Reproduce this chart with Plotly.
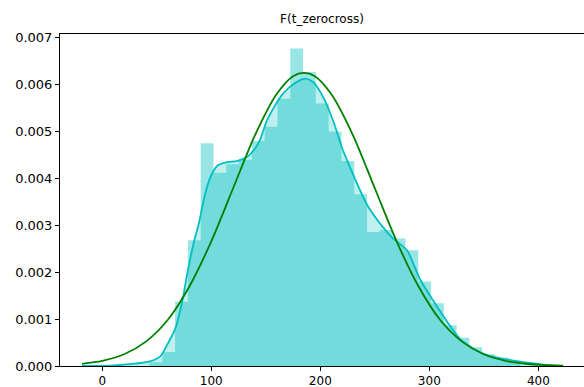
import plotly.graph_objects as go

# Histogram (density): 29 bins, left edges and the final right edge
bin_edges = [43.30, 55.04, 66.78, 78.52, 90.26, 102.00, 113.74, 125.48, 137.22, 148.96,
             160.70, 172.44, 184.18, 195.92, 207.66, 219.40, 231.14, 242.88, 254.62, 266.36,
             278.10, 289.84, 301.58, 313.32, 325.06, 336.80, 348.54, 360.28, 372.02, 383.76]
bin_density = [0.00008, 0.0003, 0.00137, 0.00268, 0.00475, 0.00412, 0.0043, 0.0044, 0.0048, 0.0051,
               0.0057, 0.00677, 0.00627, 0.0056, 0.0050, 0.00437, 0.00366, 0.00286, 0.0029, 0.00272,
               0.00247, 0.0018, 0.00134, 0.00087, 0.0006, 0.0004, 0.00025, 0.00018, 0.00012]

# KDE curve
kde_x = [-18.6, 7.1, 25.4, 43.8, 52.9, 59.4, 66.7, 73.1, 78.6, 84.1, 88.7, 92.4, 96.1, 100.6,
         106.1, 114.4, 123.6, 132.8, 140.1, 144.7, 151.1, 165.8, 178.6, 186.0, 193.3, 202.5,
         211.6, 220.8, 224.5, 233.7, 243.8, 254.8, 266.7, 279.5, 285.0, 291.5, 303.4, 316.2,
         328.2, 340.1, 352.9, 371.3, 389.6, 408.0, 422.7]
kde_y = [0.0, 0.00001, 0.00004, 0.0001, 0.0002, 0.00045, 0.00078, 0.00135, 0.00205, 0.00265,
         0.00305, 0.00347, 0.00382, 0.0041, 0.00428, 0.00435, 0.00437, 0.00446, 0.00464, 0.00482,
         0.00524, 0.00581, 0.00606, 0.00613, 0.00606, 0.00574, 0.00524, 0.0046, 0.00439, 0.00389,
         0.0034, 0.00304, 0.00272, 0.00247, 0.0022, 0.00185, 0.0014, 0.00095, 0.00058, 0.00038,
         0.00023, 0.00014, 0.00007, 0.00002, 0.0]

# Normal fit curve
fit_x = [-18.6, 0, 20, 40, 60, 80, 100, 120, 140, 160, 175, 185, 195, 210, 230, 250, 270,
         290, 310, 330, 350, 370, 390, 410, 422.7]
fit_y = [0.000047, 0.000109, 0.00025, 0.00052, 0.00098, 0.0017, 0.00266, 0.00379, 0.00492,
         0.0058, 0.00618, 0.00625, 0.00618, 0.0058, 0.00492, 0.00379, 0.00266, 0.0017, 0.00098,
         0.00052, 0.00025, 0.000109, 0.000043, 0.000016, 0.000008]

x_ticks = [0, 100, 200, 300, 400]
y_ticks = [0.000, 0.001, 0.002, 0.003, 0.004, 0.005, 0.006, 0.007]

fig = go.Figure()
# histogram drawn as a step-filled area (no seams between bars)
fig.add_trace(go.Scatter(x=bin_edges, y=bin_density + [bin_density[-1]], mode="lines",
                         line=dict(width=0, shape="hv", color="rgba(0,191,191,0)"),
                         fill="tozeroy", fillcolor="rgba(0,191,191,0.4)"))
fig.add_trace(go.Scatter(x=kde_x, y=kde_y, mode="lines",
                         line=dict(color="rgb(0,191,191)", width=1.8, shape="spline", smoothing=0.8),
                         fill="tozeroy", fillcolor="rgba(0,191,191,0.25)"))
fig.add_trace(go.Scatter(x=fit_x, y=fit_y, mode="lines",
                         line=dict(color="rgb(0,128,0)", width=1.8, shape="spline", smoothing=0.8)))

font = dict(family="DejaVu Sans", size=13, color="#000000")
fig.update_layout(
    width=584, height=387,
    margin=dict(l=60, r=0, t=34, b=21),
    plot_bgcolor="white", paper_bgcolor="white",
    showlegend=False,
    font=font,
    title=dict(text="F(t_zerocross)", x=0.5, xref="paper", y=1 - 19 / 387, yref="container",
               xanchor="center", yanchor="middle", font=dict(family="DejaVu Sans", size=12, color="#000")),
    xaxis=dict(range=[-38.8, 441.9], tickvals=x_ticks, ticktext=[str(v) for v in x_ticks],
               tickfont=dict(family="DejaVu Sans", size=12, color="#000"),
               showgrid=False, zeroline=False, showline=True, mirror=True, linecolor="black", linewidth=1,
               ticks="outside", ticklen=4, tickcolor="black", automargin=False),
    yaxis=dict(range=[0, 0.00708], tickvals=y_ticks, ticktext=["%.3f" % v for v in y_ticks],
               showgrid=False, zeroline=False, showline=True, linecolor="black", linewidth=1,
               ticks="outside", ticklen=4, tickcolor="black", automargin=False),
)
fig.write_html("out.html")
